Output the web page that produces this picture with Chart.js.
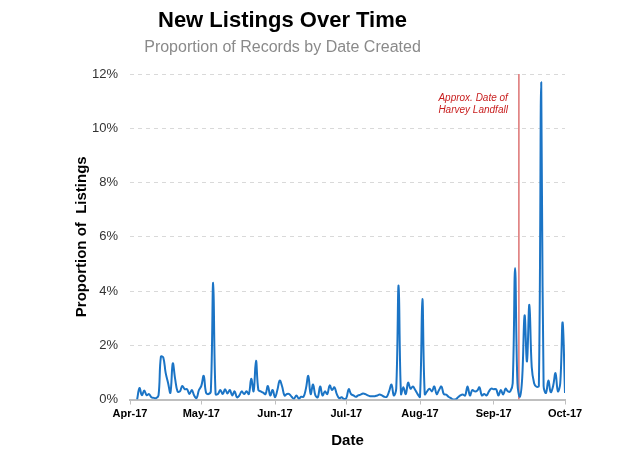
<!DOCTYPE html>
<html lang="en">
<head>
  <meta charset="UTF-8">
  <title>New Listings Over Time</title>
  <script src="https://cdn.jsdelivr.net/npm/chart.js"></script>
  <style>
    body { margin: 0; background: #fff; }
  </style>
</head>
<body>
  <canvas id="listingsChart" width="640" height="469"></canvas>

  <script>
    // days counted from Apr 1 2017
    const monthDays = [0, 30, 61, 91, 122, 153, 183];
    const monthLabels = ['Apr-17', 'May-17', 'Jun-17', 'Jul-17', 'Aug-17', 'Sep-17', 'Oct-17'];

    // daily share of new listings (%), first value is day 3
    const startDay = 3;
    const shares = [
      0.0, 0.42, 0.16, 0.33, 0.16, 0.2, 0.08, 0.06, 0.05, 0.15,
      1.58, 1.55, 0.98, 0.62, 0.25, 1.33, 0.75, 0.3, 0.3, 0.5,
      0.38, 0.38, 0.2, 0.35, 0.15, 0.05, 0.35, 0.5, 0.87, 0.25,
      0.2, 0.3, 4.3, 0.2, 0.2, 0.35, 0.2, 0.38, 0.22, 0.35,
      0.15, 0.3, 0.08, 0.15, 0.3, 0.2, 0.3, 0.2, 0.76, 0.3,
      1.43, 0.35, 0.3, 0.25, 0.2, 0.5, 0.15, 0.35, 0.08, 0.35,
      0.7, 0.48, 0.15, 0.2, 0.2, 0.1, 0.03, 0.15, 0.03, 0.1,
      0.1, 0.4, 0.87, 0.2, 0.55, 0.15, 0.08, 0.48, 0.15, 0.3,
      0.2, 0.52, 0.35, 0.45, 0.2, 0.05, 0.08, 0.02, 0.05, 0.38,
      0.2, 0.15, 0.1, 0.15, 0.18, 0.22, 0.2, 0.15, 0.12, 0.12,
      0.12, 0.15, 0.18, 0.15, 0.1, 0.1, 0.3, 0.55, 0.15, 0.4,
      4.2, 0.2, 0.45, 0.2, 0.62, 0.4, 0.48, 0.35, 0.2, 0.1,
      3.7, 0.2, 0.3, 0.4, 0.3, 0.48, 0.2, 0.35, 0.48, 0.2,
      0.18, 0.1, 0.05, 0.0, 0.0, 0.08, 0.15, 0.18, 0.15, 0.48,
      0.15, 0.35, 0.3, 0.32, 0.45, 0.15, 0.2, 0.15, 0.3, 0.4,
      0.38, 0.38, 0.15, 0.35, 0.18, 0.4, 0.3, 0.3, 0.6, 4.85,
      0.6, 0.1, 0.8, 3.1, 1.4, 3.49, 1.2, 0.6, 0.47, 0.5,
      11.7, 0.5, 0.24, 0.7, 0.27, 0.5, 0.97, 0.3, 0.6, 2.84, 0.24
    ];

    const harveyDay = 163.6;
    const harveyNote = ['Approx. Date of', 'Harvey Landfall'];
    const yMax = 12;

    const FONT = "'Liberation Sans', Arial, sans-serif";

    // writes the note next to the red marker line
    const notePlugin = {
      id: 'harveyNote',
      afterDatasetsDraw(chart) {
        const { ctx, scales: { x, y } } = chart;
        const px = x.getPixelForValue(harveyDay) - 11;
        ctx.save();
        ctx.fillStyle = '#c81e1e';
        ctx.font = 'italic 10px ' + FONT;
        ctx.textAlign = 'right';
        ctx.textBaseline = 'middle';
        ctx.fillText(harveyNote[0], px, y.getPixelForValue(11.1));
        ctx.fillText(harveyNote[1], px, y.getPixelForValue(10.65));
        ctx.restore();
      }
    };

    const ctx = document.getElementById('listingsChart').getContext('2d');
    new Chart(ctx, {
      type: 'line',
      data: {
        datasets: [{
          label: 'Proportion of Listings',
          data: shares.map((v, i) => ({ x: startDay + i, y: v })),
          borderColor: '#1b74c5',
          borderWidth: 2,
          pointRadius: 0,
          tension: 0.4,
          fill: false
        }, {
          label: 'Harvey',
          data: [{ x: harveyDay, y: 0 }, { x: harveyDay, y: yMax }],
          borderColor: 'rgba(215, 90, 90, 0.85)',
          borderWidth: 1.5,
          pointRadius: 0,
          fill: false
        }]
      },
      options: {
        responsive: false,
        animation: false,
        layout: { padding: { left: 0, right: 75, top: 0, bottom: 0 } },
        plugins: {
          legend: { display: false },
          tooltip: { enabled: false },
          title: {
            display: true,
            text: 'New Listings Over Time',
            color: '#000',
            font: { family: FONT, size: 22, weight: 'bold' },
            padding: { top: 8, bottom: 4 }
          },
          subtitle: {
            display: true,
            text: 'Proportion of Records by Date Created',
            color: '#8a8a8a',
            font: { family: FONT, size: 16 },
            padding: { top: 0, bottom: 16.4 }
          }
        },
        scales: {
          x: {
            type: 'linear',
            min: 0,
            max: 183,
            afterBuildTicks: s => { s.ticks = monthDays.map(v => ({ value: v })); },
            afterFit: s => { s.height = 69.5; },
            ticks: {
              autoSkip: false,
              maxRotation: 0,
              padding: 3,
              color: '#000',
              font: { family: FONT, size: 11, weight: 'bold' },
              callback: v => monthLabels[monthDays.indexOf(v)]
            },
            grid: {
              drawOnChartArea: false,
              drawTicks: true,
              tickLength: 5,
              color: '#bfbfbf'
            },
            border: { display: true, color: '#bfbfbf', width: 2 },
            title: {
              display: true,
              text: 'Date',
              color: '#000',
              font: { family: FONT, size: 15, weight: 'bold' },
              padding: { top: 0, bottom: 19 }
            }
          },
          y: {
            min: 0,
            max: yMax,
            afterFit: s => { s.width = 130; },
            ticks: {
              stepSize: 2,
              padding: 12,
              color: '#333',
              font: { family: FONT, size: 13 },
              callback: v => v + '%'
            },
            grid: {
              drawTicks: false,
              color: c => c.tick.value === 0 ? 'rgba(0,0,0,0)' : '#d9d9d9',
              lineWidth: 1
            },
            border: { display: false, dash: [4, 4] },
            title: {
              display: true,
              text: 'Proportion of  Listings',
              color: '#000',
              font: { family: FONT, size: 15, weight: 'bold' },
              padding: { top: 73, bottom: 0 }
            }
          }
        }
      },
      plugins: [notePlugin]
    });
  </script>
</body>
</html>
